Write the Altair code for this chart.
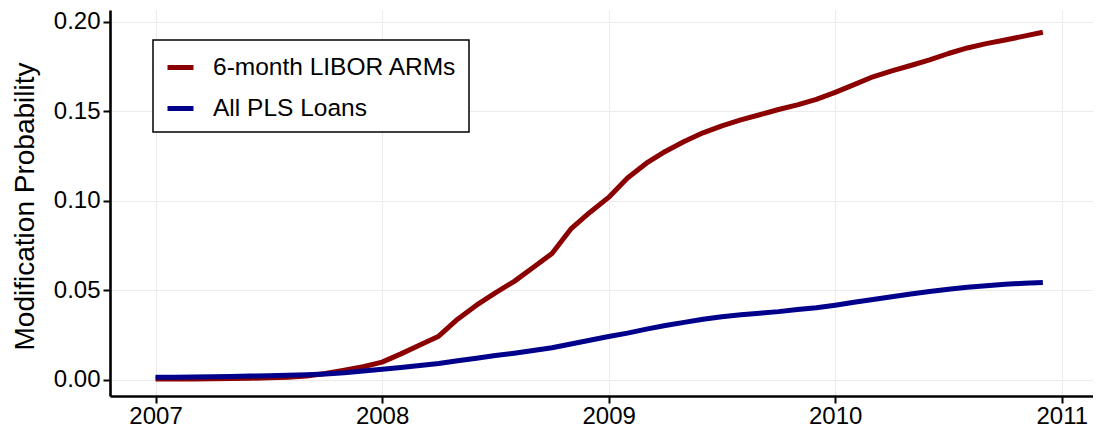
import altair as alt
import pandas as pd

# Monthly observations, Jan 2007 .. Dec 2010
months = [2007 + i / 12 for i in range(48)]

libor_arms = [
    0.0005, 0.0005, 0.0006, 0.0007, 0.0008, 0.0010, 0.0012, 0.0016, 0.0022, 0.0036, 0.0054, 0.0074,
    0.0100, 0.0146, 0.0195, 0.0245, 0.0340, 0.0418, 0.0487, 0.0551, 0.0628, 0.0707, 0.0844, 0.0936,
    0.1020, 0.1128, 0.1211, 0.1277, 0.1332, 0.1381, 0.1420, 0.1453, 0.1482, 0.1511, 0.1537, 0.1568,
    0.1607, 0.1650, 0.1694, 0.1727, 0.1757, 0.1788, 0.1824, 0.1855, 0.1879, 0.1899, 0.1921, 0.1943,
]

all_pls = [
    0.0015, 0.0016, 0.0017, 0.0018, 0.0020, 0.0022, 0.0024, 0.0027, 0.0030, 0.0034, 0.0040, 0.0050,
    0.0060, 0.0070, 0.0081, 0.0092, 0.0107, 0.0122, 0.0137, 0.0150, 0.0165, 0.0180, 0.0201, 0.0222,
    0.0243, 0.0262, 0.0284, 0.0304, 0.0322, 0.0339, 0.0353, 0.0364, 0.0373, 0.0382, 0.0394, 0.0404,
    0.0418, 0.0434, 0.0450, 0.0465, 0.0480, 0.0494, 0.0507, 0.0518, 0.0527, 0.0535, 0.0540, 0.0544,
]

series_names = ["6-month LIBOR ARMs", "All PLS Loans"]
series_colors = ["#8b0000", "#00008b"]
x_ticks = [2007, 2008, 2009, 2010, 2011]
y_ticks = [0.0, 0.05, 0.10, 0.15, 0.20]

rows = []
for m, v in zip(months, libor_arms):
    rows.append({"t": m, "p": v, "s": series_names[0]})
for m, v in zip(months, all_pls):
    rows.append({"t": m, "p": v, "s": series_names[1]})
df = pd.DataFrame(rows)

FONT = "Liberation Sans"

chart = (
    alt.Chart(df)
    .mark_line(strokeWidth=5, strokeCap="butt", strokeJoin="round")
    .encode(
        x=alt.X(
            "t:Q",
            scale=alt.Scale(domain=[2006.799, 2011.138], nice=False, zero=False),
            axis=alt.Axis(
                values=x_ticks,
                format="d",
                title=None,
                labelFontSize=24,
                labelPadding=1,
                tickSize=7,
            ),
        ),
        y=alt.Y(
            "p:Q",
            scale=alt.Scale(domain=[-0.00894, 0.2067], nice=False, zero=False),
            axis=alt.Axis(
                values=y_ticks,
                format=".2f",
                title="Modification Probability",
                titleFontSize=28,
                titleFontWeight="normal",
                titleAngle=-90,
                titleAlign="center",
                titleBaseline="alphabetic",
                titleX=-77,
                titleY=196,
                labelFontSize=24,
                labelPadding=3,
                tickSize=7,
            ),
        ),
        color=alt.Color(
            "s:N",
            scale=alt.Scale(domain=series_names, range=series_colors),
            legend=alt.Legend(
                title=None,
                orient="none",
                legendX=43,
                legendY=30,
                symbolType="stroke",
                symbolSize=676,
                symbolStrokeWidth=5,
                labelFontSize=24.5,
                labelFont=FONT,
                labelLimit=500,
                labelOffset=17,
                rowPadding=14,
                padding=12,
                strokeColor="black",
                fillColor="white",
            ),
        ),
    )
    .properties(
        width=983,
        height=386,
        autosize=alt.AutoSizeParams(type="none"),
        padding={"left": 102, "top": 2, "right": 0, "bottom": 31},
    )
    .configure_view(stroke=None)
    .configure_axis(
        labelFont=FONT,
        titleFont=FONT,
        labelColor="black",
        titleColor="black",
        domainColor="black",
        domainWidth=2.6,
        tickColor="black",
        tickWidth=2,
        gridColor="#ebebeb",
        gridWidth=1,
    )
    .configure_legend(strokeWidth=1.5, labelColor="black")
)

chart.save("out.html", embed_options={"renderer": "svg", "actions": False})
